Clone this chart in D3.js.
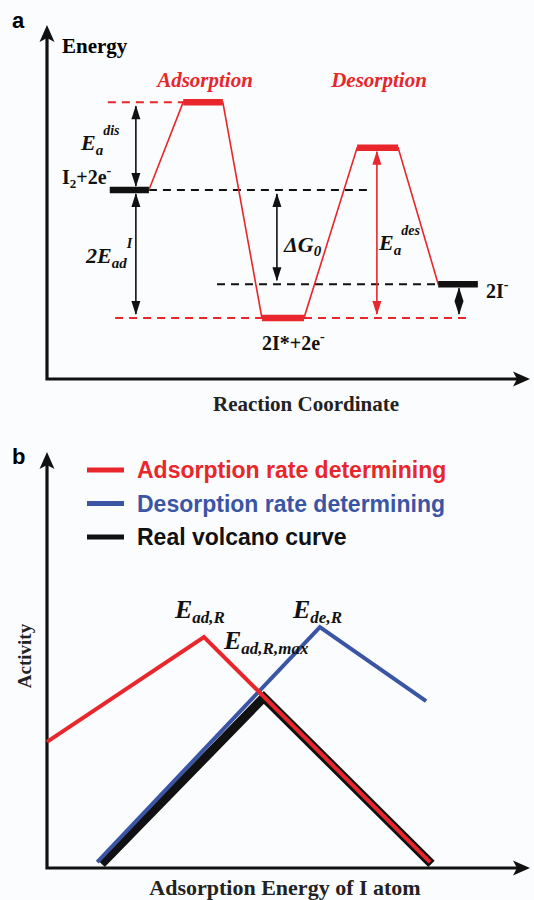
<!DOCTYPE html>
<html>
<head>
<meta charset="utf-8">
<title>Adsorption / desorption volcano</title>
<script src="https://cdn.jsdelivr.net/npm/d3@7"></script>
<style>
  body { margin: 0; background: #fbfcfd; }
  svg { display: block; }
  .serif { font-family: "Liberation Serif", "Times New Roman", serif; font-weight: bold; }
  .sans { font-family: "Liberation Sans", Arial, sans-serif; font-weight: bold; }
</style>
</head>
<body>
<div id="chart"></div>
<script>
// ---- panel a : energy levels (reaction coordinate / energy, arbitrary units)
const levelNames  = ["I2+2e-", "TS adsorption", "2I*+2e-", "TS desorption", "2I-"];
const levelStart  = [1.30, 2.82, 4.45, 6.42, 8.10];
const levelEnd    = [2.11, 3.64, 5.32, 7.27, 8.92];
const levelEnergy = [5.34, 7.82, 1.72, 6.53, 2.68];

// dashed guide lines: which level, from x, to x
const guideLevel = [1, 0, 4, 2, 2];
const guideFrom  = [1.26, 2.11, 3.52, 1.41, 5.32];
const guideTo    = [2.82, 6.63, 8.10, 4.45, 8.70];

// double arrows: x position, from level, to level
const arrowX    = [1.84, 1.84, 4.76, 6.83, 8.53];
const arrowFrom = [1, 0, 0, 3, 4];
const arrowTo   = [0, 2, 4, 2, 2];

// ---- panel b : activity vs adsorption energy
const redX   = [0, 3.25, 7.93];
const redY   = [3.03, 5.55, 0.14];
const blueX  = [1.04, 5.65, 7.85];
const blueY  = [0.14, 5.79, 4.01];
const blackX = [1.13, 4.49, 7.96];
const blackY = [0.10, 4.10, 0.10];
const legendLabels = ["Adsorption rate determining", "Desorption rate determining", "Real volcano curve"];

const RED = "#e8262b", BLUE = "#3b55a5", BLACK = "#111";

const svg = d3.select("#chart").append("svg").attr("width", 534).attr("height", 900);
svg.append("rect").attr("width", 534).attr("height", 900).attr("fill", "#fbfcfd");

const defs = svg.append("defs");
defs.append("marker").attr("id", "axHead")
  .attr("markerUnits", "userSpaceOnUse").attr("markerWidth", 30).attr("markerHeight", 30)
  .attr("viewBox", "-15 -15 30 30").attr("refX", 0).attr("refY", 0).attr("orient", "auto-start-reverse")
  .append("path").attr("d", "M9,0 L-8,-7.5 L-4,0 L-8,7.5 Z").attr("fill", BLACK);
[["blkHead", BLACK], ["redHead", RED]].forEach(function(m) {
  defs.append("marker").attr("id", m[0])
    .attr("markerUnits", "userSpaceOnUse").attr("markerWidth", 30).attr("markerHeight", 30)
    .attr("viewBox", "-15 -15 30 30").attr("refX", 0).attr("refY", 0).attr("orient", "auto-start-reverse")
    .append("path").attr("d", "M1,0 L-13,-4.5 L-13,4.5 Z").attr("fill", m[1]);
});

// text with sub/superscripts: parts = [[text, size, dy], ...]
function rich(g, x, y, parts, cls, color, italic) {
  const t = g.append("text").attr("x", x).attr("y", y).attr("class", cls).attr("fill", color)
    .style("font-style", italic ? "italic" : "normal");
  parts.forEach(function(p) {
    t.append("tspan").text(p[0]).attr("font-size", p[1]).attr("dy", p[2]);
  });
  return t;
}

// ================= panel a =================
const xa = d3.scaleLinear().domain([0, 10]).range([47, 530]);
const ya = d3.scaleLinear().domain([0, 10]).range([379, 25]);
const ga = svg.append("g");

ga.append("path")
  .attr("d", "M" + xa(0) + "," + (ya(10) + 9) + "L" + xa(0) + "," + ya(0) + "L" + (xa(10) - 9) + "," + ya(0))
  .attr("fill", "none").attr("stroke", BLACK).attr("stroke-width", 3.2)
  .attr("marker-start", "url(#axHead)").attr("marker-end", "url(#axHead)");

const levelColor = function(i) { return (i === 0 || i === 4) ? BLACK : RED; };

// dashed guides
ga.selectAll("line.guide").data(guideLevel).join("line").attr("class", "guide")
  .attr("x1", (d, i) => xa(guideFrom[i])).attr("x2", (d, i) => xa(guideTo[i]))
  .attr("y1", d => ya(levelEnergy[d])).attr("y2", d => ya(levelEnergy[d]))
  .attr("stroke", d => levelColor(d)).attr("stroke-width", 2).attr("stroke-dasharray", "8,6");

// red connecting path
const conn = [];
levelStart.forEach(function(s, i) { conn.push([s, levelEnergy[i]]); conn.push([levelEnd[i], levelEnergy[i]]); });
ga.append("path").datum(conn)
  .attr("d", d3.line().x(d => xa(d[0])).y(d => ya(d[1])))
  .attr("fill", "none").attr("stroke", RED).attr("stroke-width", 1.6);

// level bars
ga.selectAll("line.level").data(levelNames).join("line").attr("class", "level")
  .attr("x1", (d, i) => xa(levelStart[i])).attr("x2", (d, i) => xa(levelEnd[i]))
  .attr("y1", (d, i) => ya(levelEnergy[i])).attr("y2", (d, i) => ya(levelEnergy[i]))
  .attr("stroke", (d, i) => levelColor(i)).attr("stroke-width", 6.5);

// double arrows
ga.selectAll("line.arr").data(arrowX).join("line").attr("class", "arr")
  .attr("x1", d => xa(d)).attr("x2", d => xa(d))
  .attr("y1", (d, i) => ya(levelEnergy[arrowFrom[i]]) + 4)
  .attr("y2", (d, i) => ya(levelEnergy[arrowTo[i]]) - 4)
  .attr("stroke", (d, i) => i === 3 ? RED : BLACK).attr("stroke-width", 1.6)
  .attr("marker-start", (d, i) => i === 3 ? "url(#redHead)" : "url(#blkHead)")
  .attr("marker-end", (d, i) => i === 3 ? "url(#redHead)" : "url(#blkHead)");

ga.append("text").attr("x", 12).attr("y", 28).attr("class", "sans").attr("font-size", 22).text("a");
ga.append("text").attr("x", 62).attr("y", 53).attr("class", "serif").attr("font-size", 21).text("Energy");
ga.append("text").attr("x", 205).attr("y", 87).attr("class", "serif").attr("font-size", 21)
  .attr("text-anchor", "middle").attr("fill", RED).style("font-style", "italic").text("Adsorption");
ga.append("text").attr("x", 379).attr("y", 87).attr("class", "serif").attr("font-size", 21)
  .attr("text-anchor", "middle").attr("fill", RED).style("font-style", "italic").text("Desorption");

rich(ga, 81, 150, [["E", 22, 0], ["a", 15, 5], ["dis", 14, -20]], "serif", BLACK, true);
rich(ga, 62, 184, [["I", 20, 0], ["2", 13, 4], ["+2e", 20, -4], ["-", 14, -9]], "serif", BLACK, false);
rich(ga, 86, 263, [["2E", 22, 0], ["ad", 15, 5], ["I", 14, -20]], "serif", BLACK, true);
rich(ga, 284, 252, [["ΔG", 22, 0], ["0", 15, 4]], "serif", BLACK, true);
rich(ga, 379, 250, [["E", 22, 0], ["a", 15, 5], ["des", 14, -20]], "serif", BLACK, true);
rich(ga, 262, 350, [["2I*+2e", 20, 0], ["-", 14, -9]], "serif", BLACK, false);
rich(ga, 486, 298, [["2I", 20, 0], ["-", 14, -9]], "serif", BLACK, false);
ga.append("text").attr("x", 306).attr("y", 411).attr("class", "serif").attr("font-size", 21)
  .attr("text-anchor", "middle").attr("fill", "#222").text("Reaction Coordinate");

// ================= panel b =================
const xb = d3.scaleLinear().domain([0, 10]).range([47, 530]);
const yb = d3.scaleLinear().domain([0, 10]).range([868, 452]);
const gb = svg.append("g");

gb.append("path")
  .attr("d", "M" + xb(0) + "," + (yb(10) + 9) + "L" + xb(0) + "," + yb(0) + "L" + (xb(10) - 9) + "," + yb(0))
  .attr("fill", "none").attr("stroke", BLACK).attr("stroke-width", 3.2)
  .attr("marker-start", "url(#axHead)").attr("marker-end", "url(#axHead)");

const lineB = d3.line().x(d => xb(d[0])).y(d => yb(d[1]));
gb.append("path").datum(d3.zip(blackX, blackY)).attr("d", lineB)
  .attr("fill", "none").attr("stroke", BLACK).attr("stroke-width", 9);
gb.append("path").datum(d3.zip(blueX, blueY)).attr("d", lineB)
  .attr("fill", "none").attr("stroke", BLUE).attr("stroke-width", 4);
gb.append("path").datum(d3.zip(redX, redY)).attr("d", lineB)
  .attr("fill", "none").attr("stroke", RED).attr("stroke-width", 4);

gb.append("text").attr("x", 12).attr("y", 464).attr("class", "sans").attr("font-size", 22).text("b");

const legColors = [RED, BLUE, BLACK];
const leg = gb.selectAll("g.leg").data(legendLabels).join("g").attr("class", "leg")
  .attr("transform", (d, i) => "translate(87," + (470 + i * 33.5) + ")");
leg.append("line").attr("x1", 0).attr("x2", 37).attr("y1", 0).attr("y2", 0)
  .attr("stroke", (d, i) => legColors[i]).attr("stroke-width", 5);
leg.append("text").attr("x", 50).attr("y", 8).attr("class", "sans").attr("font-size", 23)
  .attr("fill", (d, i) => legColors[i]).text(d => d);

rich(gb, 175, 618, [["E", 26, 0], ["ad,R", 17, 5]], "serif", BLACK, true);
rich(gb, 293, 618, [["E", 26, 0], ["de,R", 17, 5]], "serif", BLACK, true);
rich(gb, 224, 649, [["E", 26, 0], ["ad,R,max", 17, 5]], "serif", BLACK, true);

gb.append("text").attr("transform", "translate(31,656) rotate(-90)").attr("class", "serif")
  .attr("font-size", 19).attr("text-anchor", "middle").attr("fill", "#222").text("Activity");
gb.append("text").attr("x", 285).attr("y", 895).attr("class", "serif").attr("font-size", 22)
  .attr("text-anchor", "middle").attr("fill", "#222").text("Adsorption Energy of I atom");
</script>
</body>
</html>
